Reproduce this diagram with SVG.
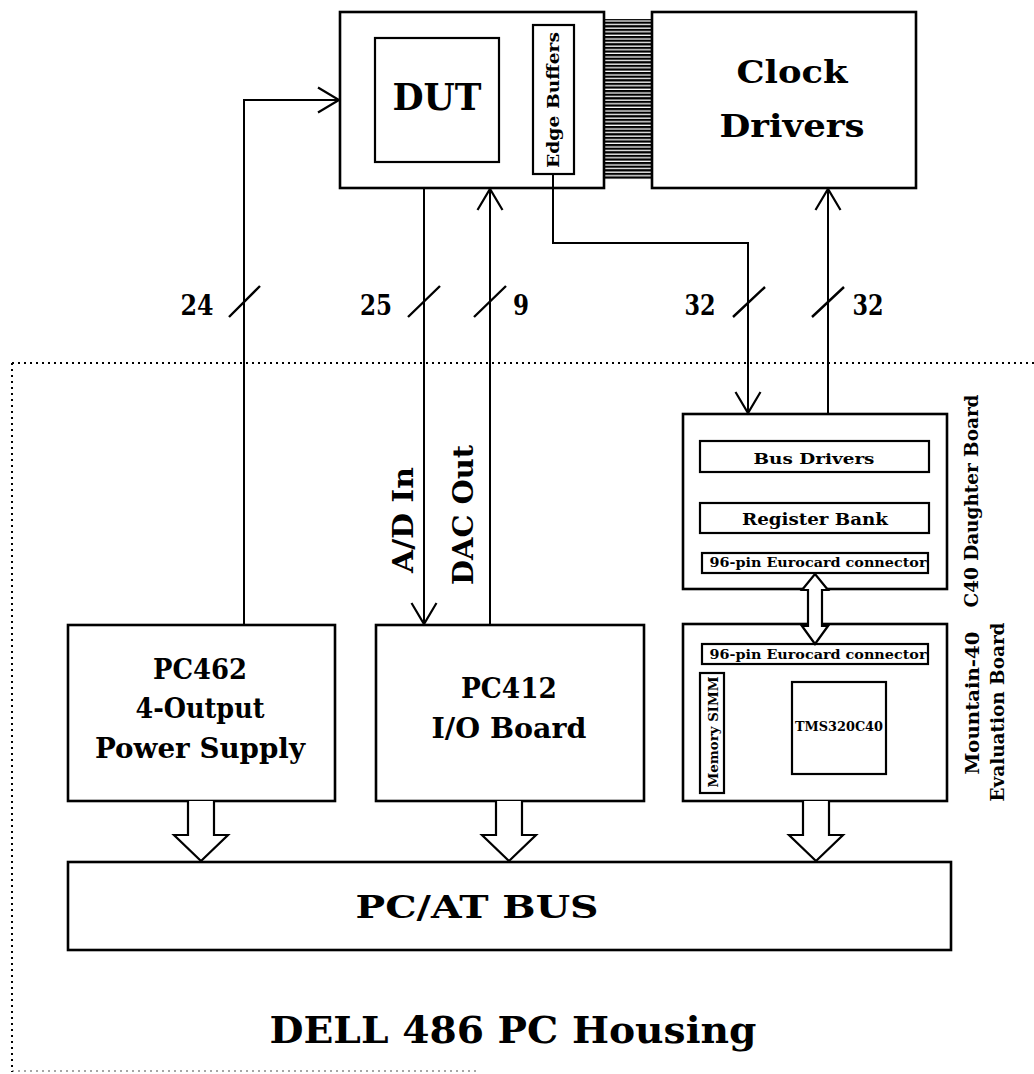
<svg xmlns="http://www.w3.org/2000/svg" width="1034" height="1074" viewBox="0 0 1034 1074">
<style>
  .box{fill:none;stroke:#000;stroke-width:2.6}
  .ibox{fill:none;stroke:#000;stroke-width:2.2}
  .wire{fill:none;stroke:#000;stroke-width:2}
  .slash{fill:none;stroke:#000;stroke-width:2.4}
  .hollow{fill:#fff;stroke:#000;stroke-width:2.2;stroke-linejoin:miter}
  .dot{fill:none;stroke:#000;stroke-width:2;stroke-dasharray:2 4}
  .t{font-family:"DejaVu Serif","Liberation Serif",serif;font-weight:bold;fill:#000;text-anchor:middle}
</style>
<defs>
  <marker id="open" markerUnits="userSpaceOnUse" orient="auto" refX="0" refY="0" markerWidth="30" markerHeight="30" viewBox="-24 -15 28 30" overflow="visible">
    <path d="M-21,-12.5 L0,0 L-21,12.5" fill="none" stroke="#000" stroke-width="2.2"/>
  </marker>
  <pattern id="hatch" patternUnits="userSpaceOnUse" width="8" height="3.6">
    <rect x="0" y="0" width="8" height="2.3" fill="#000"/>
  </pattern>
</defs>
<rect width="1034" height="1074" fill="#fff"/>

<g id="housing">
  <path class="dot" d="M12,363 H1034"/>
  <path class="dot" d="M12,363 V1072"/>
  <path class="dot" d="M12,1071 H480" stroke-opacity="0.35"/>
  <text class="t" x="513" y="1043" font-size="37" textLength="487" lengthAdjust="spacingAndGlyphs">DELL 486 PC Housing</text>
</g>

<g id="dut-board">
  <rect class="box" x="340" y="12" width="264" height="176"/>
</g>
<g id="dut">
  <rect class="ibox" x="375" y="38" width="124" height="124"/>
  <text class="t" x="437" y="110" font-size="37" textLength="89" lengthAdjust="spacingAndGlyphs">DUT</text>
</g>
<g id="edge-buffers">
  <rect class="ibox" x="533" y="25" width="41" height="149"/>
  <text class="t" transform="translate(559,100) rotate(-90)" font-size="17" textLength="136" lengthAdjust="spacingAndGlyphs">Edge Buffers</text>
</g>
<g id="ribbon">
  <rect x="604" y="19" width="48" height="161" fill="url(#hatch)"/>
</g>
<g id="clock-drivers">
  <rect class="box" x="652" y="12" width="264" height="176"/>
  <text class="t" x="792" y="83" font-size="32" textLength="111" lengthAdjust="spacingAndGlyphs">Clock</text>
  <text class="t" x="792" y="137" font-size="32" textLength="145" lengthAdjust="spacingAndGlyphs">Drivers</text>
</g>

<g id="pc462">
  <rect class="box" x="68" y="625" width="267" height="176"/>
  <text class="t" x="200" y="679" font-size="28" textLength="94" lengthAdjust="spacingAndGlyphs">PC462</text>
  <text class="t" x="200" y="718" font-size="28" textLength="129" lengthAdjust="spacingAndGlyphs">4-Output</text>
  <text class="t" x="200" y="758" font-size="28" textLength="210" lengthAdjust="spacingAndGlyphs">Power Supply</text>
</g>
<g id="pc412">
  <rect class="box" x="376" y="625" width="268" height="176"/>
  <text class="t" x="509" y="698" font-size="28" textLength="96" lengthAdjust="spacingAndGlyphs">PC412</text>
  <text class="t" x="509" y="738" font-size="28" textLength="155" lengthAdjust="spacingAndGlyphs">I/O Board</text>
</g>

<g id="c40-daughter">
  <rect class="box" x="683" y="414" width="264" height="175"/>
  <rect class="ibox" x="700" y="441" width="229" height="31"/>
  <text class="t" x="814" y="464" font-size="15" textLength="121" lengthAdjust="spacingAndGlyphs">Bus Drivers</text>
  <rect class="ibox" x="700" y="503" width="229" height="30"/>
  <text class="t" x="815" y="525" font-size="16" textLength="146" lengthAdjust="spacingAndGlyphs">Register Bank</text>
  <rect class="ibox" x="702" y="553" width="226" height="20"/>
  <text class="t" x="818" y="567" font-size="13" textLength="217" lengthAdjust="spacingAndGlyphs">96-pin Eurocard connector</text>
  <text class="t" transform="translate(978,501) rotate(-90)" font-size="19" textLength="213" lengthAdjust="spacingAndGlyphs">C40 Daughter Board</text>
</g>

<g id="mountain-40">
  <rect class="box" x="683" y="624" width="264" height="177"/>
  <rect class="ibox" x="702" y="644" width="226" height="20"/>
  <text class="t" x="818" y="659" font-size="13" textLength="217" lengthAdjust="spacingAndGlyphs">96-pin Eurocard connector</text>
  <rect class="ibox" x="700" y="673" width="24" height="120"/>
  <text class="t" transform="translate(718,732) rotate(-90)" font-size="13" textLength="111" lengthAdjust="spacingAndGlyphs">Memory SIMM</text>
  <rect class="ibox" x="792" y="682" width="94" height="92"/>
  <text class="t" x="839" y="731" font-size="13" textLength="88" lengthAdjust="spacingAndGlyphs">TMS320C40</text>
  <text class="t" transform="translate(979,703) rotate(-90)" font-size="19" textLength="143" lengthAdjust="spacingAndGlyphs">Mountain-40</text>
  <text class="t" transform="translate(1004,712) rotate(-90)" font-size="19" textLength="179" lengthAdjust="spacingAndGlyphs">Evaluation Board</text>
</g>

<g id="pc-at-bus">
  <rect class="box" x="68" y="862" width="883" height="88"/>
  <text class="t" x="477" y="918" font-size="32" textLength="243" lengthAdjust="spacingAndGlyphs">PC/AT BUS</text>
</g>

<g id="connectors">
  <path class="wire" d="M244,625 V100 H339" marker-end="url(#open)"/>
  <path class="wire" d="M424,188 V624" marker-end="url(#open)"/>
  <path class="wire" d="M490,625 V189" marker-end="url(#open)"/>
  <path class="wire" d="M553,174 V243 H748 V413" marker-end="url(#open)"/>
  <path class="wire" d="M828,414 V189" marker-end="url(#open)"/>

  <path class="slash" d="M229,317 L260,286 M408,317 L440,286 M474,317 L506,286 M733,317 L765,287 M812,317 L844,287"/>

  <path class="hollow" d="M815,574 L828,590 L822,590 L822,626 L828,626 L815,644 L802,626 L808,626 L808,590 L802,590 Z"/>
  <path class="hollow" d="M188,801 V835 H174 L201,861 L228,835 H214 V801"/>
  <path class="hollow" d="M496,801 V835 H482 L509,861 L536,835 H522 V801"/>
  <path class="hollow" d="M803,801 V835 H789 L816,861 L843,835 H829 V801"/>
</g>

<g id="labels">
  <text class="t" x="197" y="315" font-size="27" textLength="33" lengthAdjust="spacingAndGlyphs">24</text>
  <text class="t" x="376" y="315" font-size="27" textLength="32" lengthAdjust="spacingAndGlyphs">25</text>
  <text class="t" x="521" y="315" font-size="27" textLength="16" lengthAdjust="spacingAndGlyphs">9</text>
  <text class="t" x="700" y="315" font-size="27" textLength="31" lengthAdjust="spacingAndGlyphs">32</text>
  <text class="t" x="868" y="315" font-size="27" textLength="31" lengthAdjust="spacingAndGlyphs">32</text>
  <text class="t" transform="translate(413,520) rotate(-90)" font-size="28" textLength="106" lengthAdjust="spacingAndGlyphs">A/D In</text>
  <text class="t" transform="translate(473,515) rotate(-90)" font-size="28" textLength="140" lengthAdjust="spacingAndGlyphs">DAC Out</text>
</g>
</svg>
